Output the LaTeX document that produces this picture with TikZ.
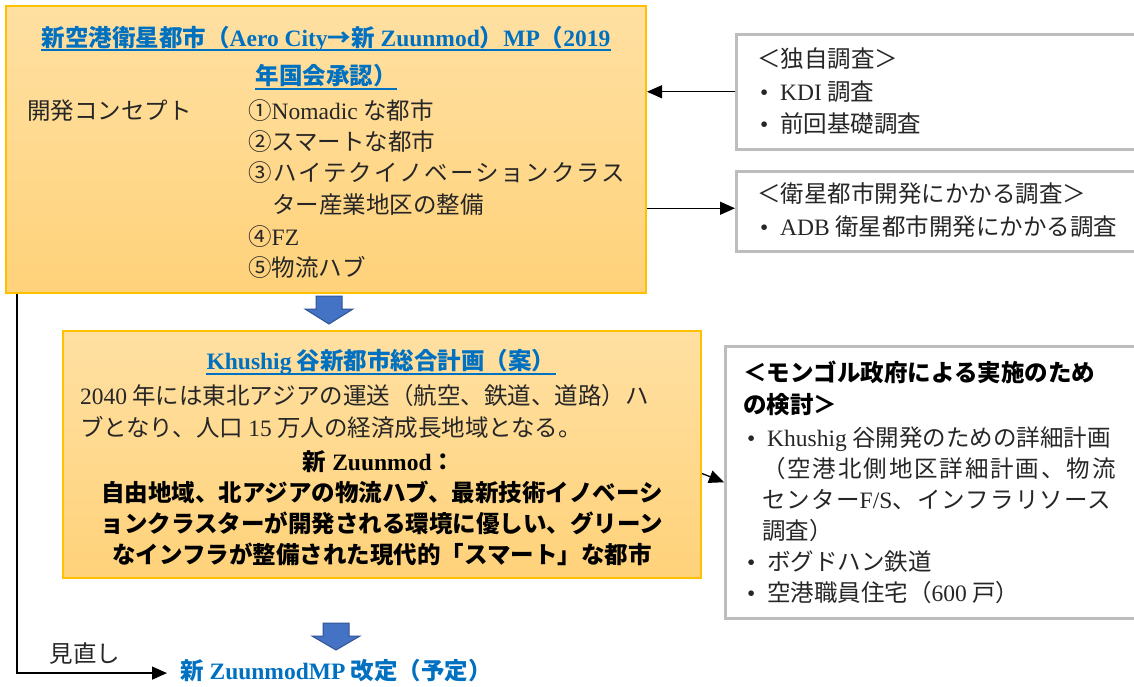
\documentclass[tikz,border=0pt]{standalone}
\usepackage{fontspec}
\setmainfont{Noto Sans CJK JP}
\newfontfamily\lat{Liberation Serif}
\usetikzlibrary{arrows.meta}
\definecolor{ttl}{HTML}{0070C0}
\definecolor{ink}{HTML}{262626}
\definecolor{ytop}{RGB}{255,224,162}
\definecolor{ybot}{RGB}{255,210,122}
\definecolor{yedge}{HTML}{FFC000}
\definecolor{gedge}{HTML}{BDBDBD}
\definecolor{bfill}{HTML}{4472C4}
\definecolor{bedge}{HTML}{2F5597}
\newcommand\E[1]{{\lat #1}}
\newcommand\blockarrow[3]{% x, top y, tip y
  \fill[bfill,draw=bedge,line width=1pt]
    (#1-13,#2) -- (#1+13,#2) -- (#1+13,#2+13) -- (#1+24,#2+13) -- (#1,#3)
    -- (#1-24,#2+13) -- (#1-13,#2+13) -- cycle;}
\tikzset{
  ybox/.style={draw=yedge,line width=2pt,top color=ytop,bottom color=ybot,
    rectangle,inner sep=0,anchor=north west},
  gbox/.style={draw=gedge,line width=2.5pt,fill=white,rectangle,inner sep=0,anchor=north west},
  txt/.style={anchor=base west,inner sep=0,text=ink,font=\fontsize{23.5}{31}\selectfont},
  ctxt/.style={txt,anchor=base},
  ttltxt/.style={ctxt,text=ttl,font=\fontsize{23.5}{31}\selectfont\bfseries},
  btxt/.style={txt,font=\fontsize{23.5}{31}\selectfont\bfseries,text=black},
  cbtxt/.style={btxt,anchor=base},
  uline/.style={draw=ttl,line width=2.5pt},
  conn/.style={draw=black,line width=1.3pt,-{Triangle[length=15pt,width=13pt]}},
}
\begin{document}
\begin{tikzpicture}[x=1pt,y=-1pt]
\clip (0,0) rectangle (1134,686);
\fill[white] (0,0) rectangle (1134,686);

% top box
\node[ybox,minimum width=640pt,minimum height=287pt] (top) at (5,5) {};
\node[ttltxt] (t1) at (326,46) {新空港衛星都市（\E{Aero City}→新\E{ Zuunmod}）\E{MP}（\E{2019}};
\node[ttltxt] (t2) at (326,84) {年国会承認）};
\draw[uline] ([yshift=-4pt]t1.base west) -- ([yshift=-4pt]t1.base east);
\draw[uline] ([yshift=-5pt]t2.base west) -- ([yshift=-5pt]t2.base east);
\node[txt] (c0) at (27,119) {開発コンセプト};
\node[txt] (c1) at (248,119) {①\E{Nomadic} な都市};
\node[txt] (c2) at (248,150) {②スマートな都市};
\node[txt] (c3) at (248,181) {\addfontfeature{LetterSpace=8}③ハイテクイノベーションクラス};
\node[txt] (c3b) at (272,213) {ター産業地区の整備};
\node[txt] (c4) at (248,245) {④\E{FZ}};
\node[txt] (c5) at (248,276) {⑤物流ハブ};

% right box 1
\node[gbox,minimum width=410pt,minimum height=115pt] (r1) at (735,33) {};
\node[txt] (r1a) at (757,67) {＜独自調査＞};
\node[txt] (r1b) at (760,100) {\E{•\ \ KDI} 調査};
\node[txt] (r1c) at (760,132) {\E{•\ \ }前回基礎調査};

% right box 2
\node[gbox,minimum width=410pt,minimum height=80pt] (r2) at (735,170) {};
\node[txt] (r2a) at (757,202) {＜衛星都市開発にかかる調査＞};
\node[txt] (r2b) at (760,235) {\E{•\ \ ADB} 衛星都市開発にかかる調査};

\draw[conn] (r1.west) -- (r1.west -| top.east);
\draw[conn] ([yshift=3pt]r2.west -| top.east) -- ([yshift=3pt]r2.west);

% block arrow 1
\blockarrow{329}{296}{324}

% box 2
\node[ybox,minimum width=638pt,minimum height=247pt] (mid) at (62,330) {};
\node[ttltxt] (m0) at (381,369) {\E{Khushig} 谷新都市総合計画（案）};
\draw[uline] ([yshift=-5pt]m0.base west) -- ([yshift=-5pt]m0.base east);
\node[txt] (m1) at (80,404) {\E{2040} 年には東北アジアの運送（航空、鉄道、道路）ハ};
\node[txt] (m2) at (80,436) {ブとなり、人口 \E{15} 万人の経済成長地域となる。};
\node[cbtxt] (m3) at (379,470) {新\E{ Zuunmod}：};
\node[cbtxt] (m4) at (382,501) {自由地域、北アジアの物流ハブ、最新技術イノベーシ};
\node[cbtxt] (m5) at (382,532) {ョンクラスターが開発される環境に優しい、グリーン};
\node[cbtxt] (m6) at (382,563) {なインフラが整備された現代的「スマート」な都市};

% right box 3
\node[gbox,minimum width=420pt,minimum height=272pt] (r3) at (724,345) {};
\node[btxt] (r3a) at (743,381) {＜モンゴル政府による実施のため};
\node[btxt] (r3b) at (743,413) {の検討＞};
\node[txt] (r3c) at (747,446) {\E{•\ \ Khushig} 谷開発のための詳細計画};
\node[txt] (r3d) at (762,477) {\addfontfeature{LetterSpace=8}（空港北側地区詳細計画、物流};
\node[txt] (r3e) at (762,508) {\addfontfeature{LetterSpace=5}センター\E{F/S}、インフラリソース};
\node[txt] (r3f) at (762,539) {調査）};
\node[txt] (r3g) at (747,570) {\E{•\ \ }ボグドハン鉄道};
\node[txt] (r3h) at (747,601) {\E{•\ \ }空港職員住宅（\E{600} 戸）};

\draw[conn] ([yshift=-19pt]mid.east) -- (r3.west);

% block arrow 2
\blockarrow{336}{623}{650}

% final
\node[ttltxt,anchor=base west] (fin) at (180,679) {新\E{ ZuunmodMP} 改定（予定）};
\node[ctxt] (rev) at (85,662) {見直し};
\coordinate (fb) at ([xshift=12pt]top.south west);
\draw[conn] (fb) |- ([xshift=-13pt,yshift=-3pt]fin.west);
\end{tikzpicture}
\end{document}
